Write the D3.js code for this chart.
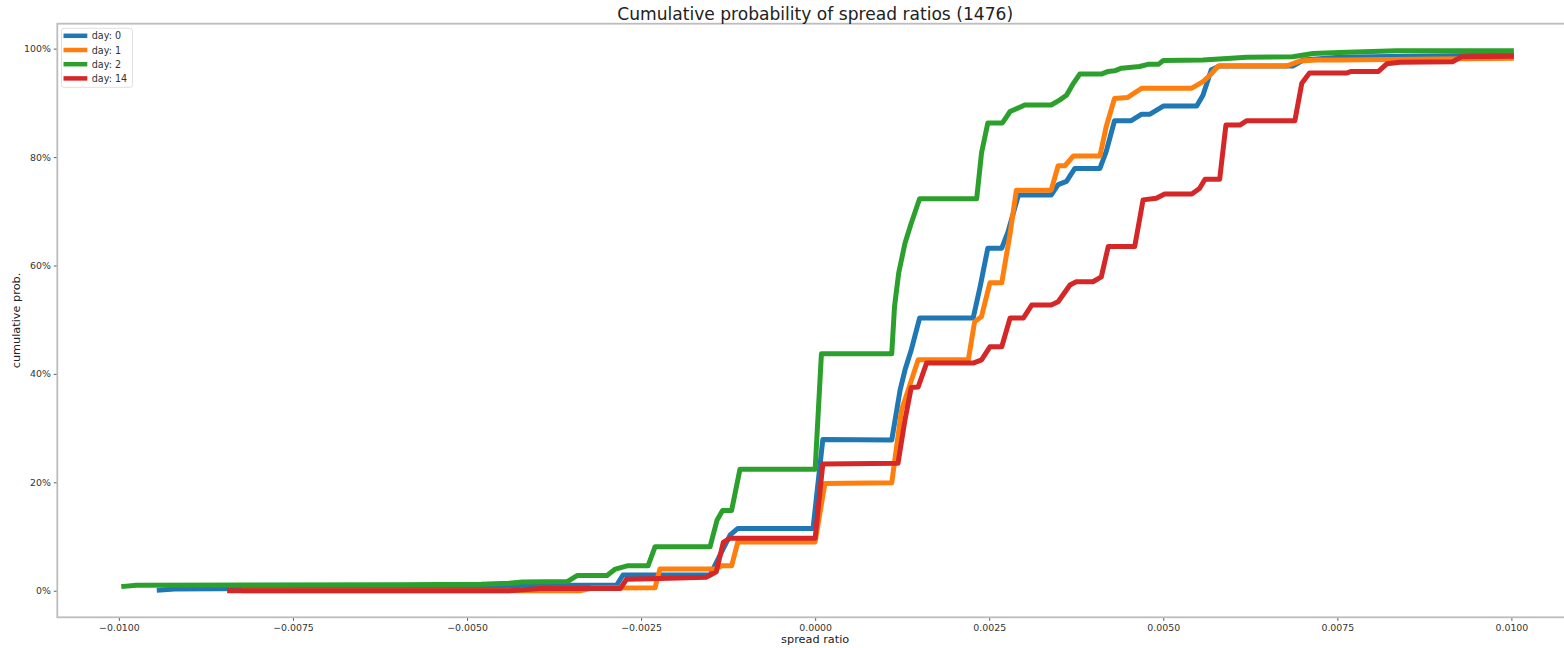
<!DOCTYPE html>
<html>
<head>
<meta charset="utf-8">
<script src="https://cdn.jsdelivr.net/npm/d3@7"></script>
<style>
	body { margin: 0; background: #fff; }
	text { font-family: "DejaVu Sans", sans-serif; }
</style>
</head>
<body>
<div id="chart"></div>
<script>
// series: [spread ratio, cumulative prob. in %]
var day0 = [[-0.00942,0.1],[-0.0092,0.3],[-0.0080,0.4],[-0.0060,0.6],[-0.0045,0.8],[-0.0042,1.0],
	[-0.00285,1.05],[-0.00276,2.9],[-0.00151,2.9],[-0.00133,7.5],[-0.00122,10.3],[-0.00111,11.5],
	[-0.00003,11.5],[0.00011,27.9],[0.00110,27.8],[0.00122,37.0],[0.00129,40.7],[0.00138,44.4],
	[0.00150,50.3],[0.00227,50.3],[0.00237,56.1],[0.00248,63.2],[0.00268,63.2],[0.00277,66.2],
	[0.00292,73.0],[0.00339,73.0],[0.00349,74.9],[0.00361,75.5],[0.00373,77.9],[0.00409,77.9],
	[0.00418,81.0],[0.00430,86.7],[0.00454,86.7],[0.00469,87.9],[0.00481,87.9],[0.00500,89.4],
	[0.00548,89.4],[0.00557,91.4],[0.00569,96.1],[0.00581,96.8],[0.00686,96.8],[0.00701,97.9],
	[0.00753,98.4],[0.0085,98.6],[0.0100,98.8]];

var day1 = [[-0.0082,0.0],[-0.00338,0.0],[-0.00320,0.5],[-0.00230,0.55],[-0.00223,4.0],[-0.00144,4.0],
	[-0.00134,4.6],[-0.00120,4.6],[-0.00111,9.0],[0.0000,9.0],[0.00014,19.8],[0.00110,19.9],
	[0.00124,33.3],[0.00148,42.6],[0.00220,42.6],[0.00229,49.6],[0.00239,50.6],[0.00251,56.8],
	[0.00268,56.8],[0.00280,65.9],[0.00289,73.9],[0.00339,73.9],[0.00349,78.4],[0.00359,78.4],
	[0.00371,80.2],[0.00409,80.2],[0.00418,85.6],[0.00430,90.8],[0.00449,91.0],[0.00469,92.7],
	[0.00541,92.7],[0.00557,93.9],[0.00567,95.1],[0.00579,96.8],[0.00677,96.8],[0.00696,97.7],
	[0.00720,97.9],[0.00753,97.9],[0.0100,98.2]];

var day2 = [[-0.00993,0.8],[-0.00975,1.0],[-0.0060,1.1],[-0.0048,1.2],[-0.0044,1.4],[-0.0042,1.6],
	[-0.00356,1.7],[-0.00342,2.8],[-0.00299,2.8],[-0.00287,4.0],[-0.00270,4.6],[-0.00240,4.6],
	[-0.00230,8.1],[-0.00151,8.1],[-0.00141,13.0],[-0.00133,14.8],[-0.00120,14.8],[-0.00108,22.4],
	[0.0000,22.4],[0.00009,43.7],[0.00110,43.7],[0.00114,52.4],[0.00120,58.6],[0.00129,64.1],
	[0.00138,67.8],[0.00150,72.3],[0.00232,72.3],[0.00239,80.8],[0.00248,86.3],[0.00269,86.3],
	[0.00280,88.4],[0.00301,89.6],[0.00339,89.6],[0.00351,90.5],[0.00361,91.4],[0.00371,93.6],
	[0.00380,95.3],[0.00411,95.3],[0.00421,95.8],[0.00430,95.9],[0.00440,96.4],[0.00466,96.7],
	[0.00478,97.1],[0.00493,97.1],[0.00500,97.8],[0.00557,97.9],[0.00620,98.4],[0.00686,98.5],
	[0.00715,99.1],[0.00753,99.3],[0.00835,99.6],[0.0100,99.6]];

var day14 = [[-0.00841,0.0],[-0.0044,0.0],[-0.00394,0.4],[-0.00280,0.4],[-0.00271,2.1],[-0.00237,2.2],
	[-0.00156,2.5],[-0.00142,3.5],[-0.00132,8.9],[-0.00122,9.7],[0.0000,9.7],[0.00011,23.4],
	[0.00119,23.5],[0.00129,31.5],[0.00138,37.5],[0.00148,37.6],[0.00160,42.0],[0.00227,42.0],
	[0.00239,42.6],[0.00251,45.0],[0.00268,45.0],[0.00280,50.3],[0.00299,50.3],[0.00311,52.7],
	[0.00339,52.7],[0.00349,53.3],[0.00366,56.4],[0.00375,57.0],[0.00399,57.0],[0.00411,57.9],
	[0.00421,63.5],[0.00459,63.5],[0.00471,72.1],[0.00490,72.4],[0.00502,73.2],[0.00541,73.2],
	[0.00552,74.2],[0.00560,75.9],[0.00581,75.9],[0.00590,85.9],[0.00610,85.9],[0.00620,86.7],
	[0.00689,86.7],[0.00699,93.6],[0.00710,95.5],[0.00763,95.5],[0.00770,95.8],[0.00809,95.8],
	[0.00821,97.2],[0.00840,97.5],[0.00916,97.6],[0.00928,98.5],[0.0100,98.6]];

var seriesNames  = ["day: 0", "day: 1", "day: 2", "day: 14"];
var seriesData   = [day0, day1, day2, day14];
var seriesColors = ["#1f77b4", "#ff7f0e", "#2ca02c", "#d62728"];

var xTicks = [-0.01, -0.0075, -0.005, -0.0025, 0, 0.0025, 0.005, 0.0075, 0.01];
var yTicks = [0, 20, 40, 60, 80, 100];

var width = 1564, height = 648;
var axLeft = 57.3, axRight = 1573, axTop = 23.7, axBottom = 617.3;

var svg = d3.select("#chart")
	.append("svg")
		.attr("width",  width)
		.attr("height", height);

var x = d3.scaleLinear().domain([-0.010885, 0.010885]).range([axLeft, axRight]);
var y = d3.scaleLinear().domain([-4.9, 104.6]).range([axBottom, axTop]);

function fmtX(d) {
	var s = Math.abs(d).toFixed(4);
	return (d < -1e-12 ? "\u2212" : "") + s;
}

// axes
var xAxis = svg.append("g")
	.attr("transform", "translate(0," + axBottom + ")")
	.call(d3.axisBottom(x).tickValues(xTicks).tickFormat(fmtX).tickSize(3.5).tickPadding(4));
var yAxis = svg.append("g")
	.attr("transform", "translate(" + axLeft + ",0)")
	.call(d3.axisLeft(y).tickValues(yTicks).tickFormat(function(d) { return d + "%"; }).tickSize(3.5).tickPadding(3));

[xAxis, yAxis].forEach(function(g) {
	g.select(".domain").remove();
	g.selectAll(".tick line").attr("stroke", "#333").attr("stroke-width", 0.8);
	g.selectAll(".tick text").attr("fill", "#333").attr("font-size", 9.4)
		.attr("font-family", "DejaVu Sans, sans-serif");
});

// spines
svg.append("rect")
	.attr("x", axLeft).attr("y", axTop)
	.attr("width", axRight - axLeft).attr("height", axBottom - axTop)
	.attr("fill", "none")
	.attr("stroke", "#bdbdbd")
	.attr("stroke-width", 1.8);

var line = d3.line()
	.x(function(d) { return x(d[0]); })
	.y(function(d) { return y(d[1]); });

svg.append("g").selectAll("path")
	.data(seriesData)
	.enter().append("path")
		.attr("d", line)
		.attr("fill", "none")
		.attr("stroke", function(d, i) { return seriesColors[i]; })
		.attr("stroke-width", 5)
		.attr("stroke-linejoin", "round")
		.attr("stroke-linecap", "square");

// title and labels
svg.append("text")
	.attr("x", (axLeft + axRight) / 2).attr("y", 20)
	.attr("text-anchor", "middle")
	.attr("font-size", 17.1)
	.attr("fill", "#222")
	.text("Cumulative probability of spread ratios (1476)");

svg.append("text")
	.attr("x", (axLeft + axRight) / 2).attr("y", 643)
	.attr("text-anchor", "middle")
	.attr("font-size", 11.3)
	.attr("fill", "#222")
	.text("spread ratio");

svg.append("text")
	.attr("transform", "translate(20," + ((axTop + axBottom) / 2) + ") rotate(-90)")
	.attr("text-anchor", "middle")
	.attr("font-size", 11.3)
	.attr("fill", "#222")
	.text("cumulative prob.");

// legend
var legend = svg.append("g").attr("transform", "translate(61.5,28.3)");
legend.append("rect")
	.attr("width", 71).attr("height", 59)
	.attr("rx", 2.5)
	.attr("fill", "#fff").attr("fill-opacity", 0.8)
	.attr("stroke", "#d8d8d8").attr("stroke-width", 0.8);

var item = legend.selectAll("g.item")
	.data(seriesNames)
	.enter().append("g")
		.attr("class", "item")
		.attr("transform", function(d, i) { return "translate(0," + (7.5 + i * 14.2) + ")"; });
item.append("line")
	.attr("x1", 2).attr("x2", 25.8)
	.attr("stroke", function(d, i) { return seriesColors[i]; })
	.attr("stroke-width", 4.5);
item.append("text")
	.attr("x", 30.2).attr("y", 3.5)
	.attr("font-size", 9.6)
	.attr("fill", "#333")
	.text(function(d) { return d; });
</script>
</body>
</html>
